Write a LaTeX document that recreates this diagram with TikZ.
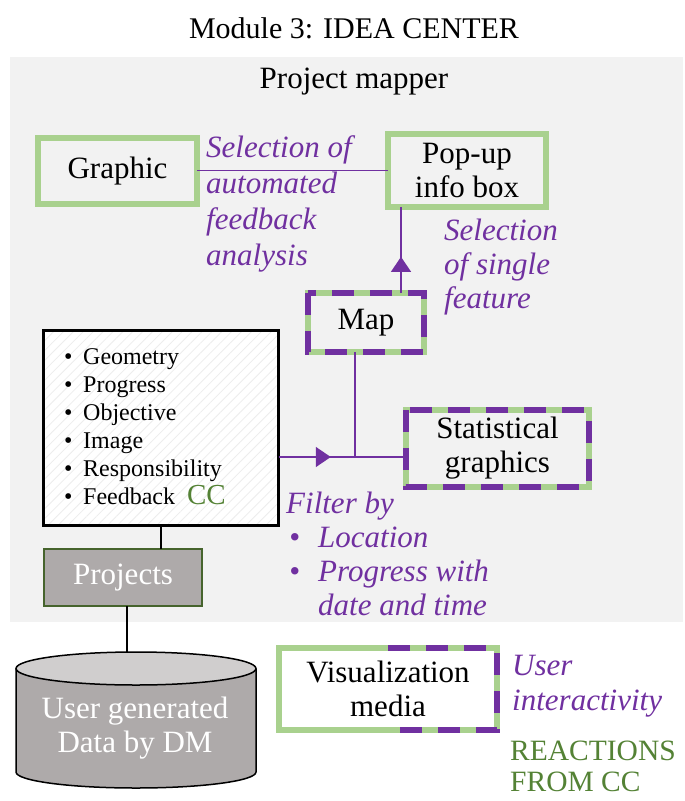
\documentclass[tikz,border=0pt]{standalone}
\usepackage{fontspec}
\setmainfont{Liberation Serif}
\usetikzlibrary{arrows.meta,decorations.markings,patterns.meta,calc}
\definecolor{panel}{HTML}{F2F2F2}
\definecolor{lgreen}{HTML}{A9D18E}
\definecolor{dgreen}{HTML}{548235}
\definecolor{projgreen}{HTML}{46642D}
\definecolor{purp}{HTML}{7030A0}
\definecolor{boxgrey}{HTML}{AEAAAA}
\definecolor{cyltopfill}{HTML}{D0CECE}
\newcommand\fs[2]{\fontsize{#1}{#2}\selectfont}
\begin{document}
\begin{tikzpicture}[x=1pt,y=-1pt,
  txt/.style={font=\fs{31}{34}, align=center, inner sep=0},
  gbox/.style={draw=lgreen, line width=6pt, fill=panel, outer sep=0, inner sep=0, txt},
  dashover/.style={draw=purp, line width=6pt, dash pattern=on 22pt off 16pt},
  note/.style={text=purp, font=\fs{31}{35}\itshape, align=left, inner sep=0},
  conn/.style={draw=purp, line width=1.5pt},
  bconn/.style={draw=black, line width=1.5pt},
  midtip/.style={postaction={decorate}, decoration={markings,
      mark=at position #1 with {\arrow[purp]{Triangle[width=20pt,length=15pt]}}}}
]
\useasboundingbox (0,0) rectangle (685,801);
\fill[white] (0,0) rectangle (685,801);

% title and grey panel
\node[font=\fs{30}{34}, inner sep=0] (title) at (354,28) {Module 3: IDEA CENTER};
\fill[panel] (10,57) rectangle (683,622);
\node[txt] (pm) at (354,82) {Project mapper};

% green boxes
\node[gbox, minimum width=159pt, minimum height=66pt] (graphic) at (117.5,171) {Graphic};
\node[gbox, minimum width=158pt, minimum height=73pt] (popup) at (467,170.5) {Pop-up\\info box};
\node[gbox, minimum width=116pt, minimum height=59pt] (map) at (366,322.5) {Map};
\node[gbox, minimum width=183pt, minimum height=77pt] (stat) at (497.5,448.5) {Statistical\\graphics};
\node[gbox, fill=white, minimum width=218pt, minimum height=82pt] (vis) at (388,689) {Visualization\\media};

% purple dashes laid over the green borders
\draw[dashover] (map.north west) rectangle (map.south east);
\draw[dashover] (stat.north west) rectangle (stat.south east);
\draw[dashover] ($(vis.north west)+(109,0)$) -- (vis.north east) -- (vis.south east) -- ($(vis.south west)+(114,0)$);

% attribute list
\node[draw=black, line width=3pt, outer sep=0, minimum width=235pt, minimum height=195pt,
      preaction={fill=white}, pattern={Lines[angle=45,distance=7pt,line width=0.8pt]},
      pattern color=black!7] (list) at (161,428) {};
\node[anchor=north west, inner sep=0, font=\fs{24}{28}] (items) at (62,344.5) {%
  \begin{tabular}{@{}p{21pt}@{}l@{}}
  \hspace{2pt}\textbullet & Geometry\\
  \hspace{2pt}\textbullet & Progress\\
  \hspace{2pt}\textbullet & Objective\\
  \hspace{2pt}\textbullet & Image\\
  \hspace{2pt}\textbullet & Responsibility\\
  \hspace{2pt}\textbullet & Feedback\hspace{12pt}\textcolor{dgreen}{\fs{29}{28}CC}
  \end{tabular}};

% projects and data store
\node[draw=projgreen, line width=2pt, fill=boxgrey, minimum width=158pt, minimum height=57pt,
      outer sep=0, txt, text=white] (projects) at (123,577.5) {Projects};
\filldraw[fill=boxgrey, draw=black, line width=1.5pt]
  (16,668.5) -- (16,772) arc[start angle=180, end angle=0, x radius=120, y radius=16] -- (256,668.5);
\filldraw[fill=cyltopfill, draw=black, line width=1.5pt] (136,668.5) ellipse [x radius=120, y radius=16.5];
\node[txt, text=white] (data) at (135,728) {User generated\\Data by DM};
\coordinate (cyltop) at (127,652.5);

% connectors
\coordinate (junc) at (355,457);
\draw[conn] (popup.west) -- (popup.west -| graphic.east);
\draw[conn, midtip=0.42] ($(map.north west)+(93,0)$) -- ($(popup.south west)+(13,0)$);
\draw[conn] (map.south -| junc) -- (junc);
\draw[conn, midtip=0.41] (list.east |- junc) -- (stat.west |- junc);
\draw[bconn] (list.south) -- (list.south |- projects.north);
\draw[bconn] (projects.south -| cyltop) -- (cyltop);

% purple annotations
\node[note, font=\fs{31}{36}\itshape, anchor=north west] (selauto) at (206,135) {Selection of\\automated\\feedback\\analysis};
\node[note, font=\fs{31}{34}\itshape, anchor=north west] (selsingle) at (444,219) {Selection\\of single\\feature};
\node[note, font=\fs{31}{34}\itshape, anchor=north west] (filter) at (286,489) {%
  \begin{tabular}{@{}p{32pt}@{}l@{}}
  \multicolumn{2}{@{}l@{}}{Filter by}\\
  \hspace{3pt}\textbullet & Location\\
  \hspace{3pt}\textbullet & Progress with\\
  & date and time
  \end{tabular}};
\node[note, anchor=north west] (inter) at (512,655) {User\\interactivity};
\node[inner sep=0, align=left, text=dgreen, font=\fs{29.5}{31}, anchor=north west] (react) at (510,741) {REACTIONS\\FROM CC};
\end{tikzpicture}
\end{document}
